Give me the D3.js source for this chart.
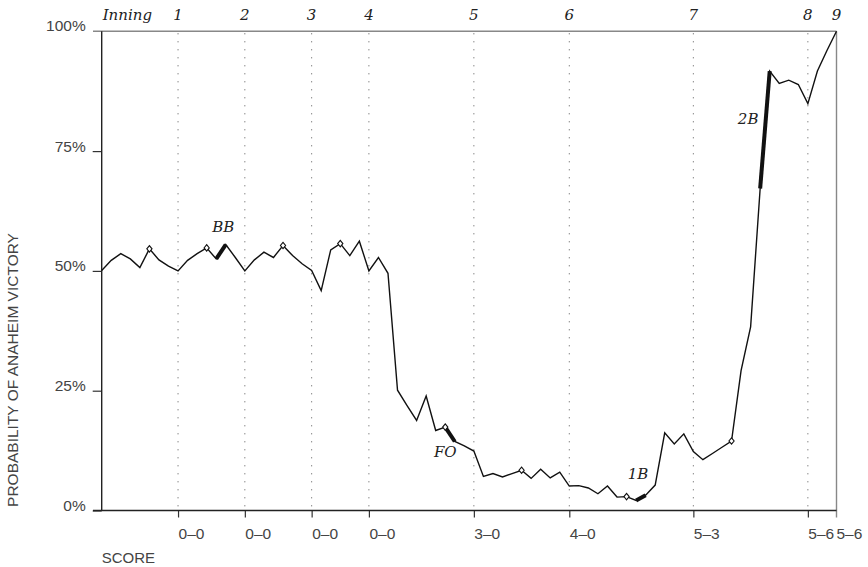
<!DOCTYPE html>
<html>
<head>
<meta charset="utf-8">
<script src="https://cdn.jsdelivr.net/npm/d3@7"></script>
<style>
  html, body { margin: 0; padding: 0; background: #fff; }
  svg { display: block; }
</style>
</head>
<body>
<svg id="chart" width="868" height="567"></svg>
<script>
// ---------- DATA ----------
const innings = ["1", "2", "3", "4", "5", "6", "7", "8", "9"];
const inningEvent = [8, 15, 22, 28, 39, 49, 62, 74, 77];
const scores = ["0–0", "0–0", "0–0", "0–0", "3–0", "4–0", "5–3", "5–6", "5–6"];
const yTicks = [0, 25, 50, 75, 100];

// win probability (%) after each plate-appearance event, index 0..77
const probability = [
  50.1, 52.2, 53.6, 52.5, 50.7, 54.6, 52.3, 51.0, 50.0, 52.2,
  53.6, 54.8, 52.5, 55.5, 52.8, 50.0, 52.3, 53.9, 52.8, 55.3,
  53.2, 51.5, 50.1, 45.9, 54.4, 55.7, 53.2, 56.2, 50.0, 52.8,
  49.5, 25.1, 21.9, 18.8, 23.9, 16.7, 17.4, 14.4, 13.5, 12.4,
  7.1, 7.7, 7.0, 7.7, 8.4, 6.7, 8.6, 6.8, 8.0, 5.1,
  5.2, 4.7, 3.5, 5.1, 2.8, 2.9, 2.1, 3.2, 5.3, 16.2,
  13.9, 16.0, 12.3, 10.6, 11.9, 13.2, 14.5, 29.2, 38.3, 67.2,
  91.7, 89.1, 89.8, 88.9, 84.9, 91.7, 96.0, 100
];

// events marked with a diamond
const markerEvents = [5, 11, 19, 25, 36, 44, 55, 66];

// key plays (thick segments) and their labels
const playLabels = ["BB", "FO", "1B", "2B"];
const playStart = [12, 36, 56, 69];
const playEnd = [13, 37, 57, 70];

// ---------- LAYOUT ----------
const pLeft = 101.7, pRight = 836.5, pTop = 31.3, pBottom = 510.5;
const svg = d3.select("#chart");

const x = d3.scaleLinear().domain([0, 77]).range([pLeft, pRight]);
const y = d3.scaleLinear().domain([0, 100]).range([pBottom, pTop]);

const sans = "'Liberation Sans', Arial, sans-serif";
const serif = "'DejaVu Serif', serif";

// dotted inning lines
svg.append("g").selectAll("line")
  .data(inningEvent.slice(0, 8))
  .join("line")
  .attr("x1", d => x(d)).attr("x2", d => x(d))
  .attr("y1", pTop + 2).attr("y2", pBottom)
  .attr("stroke", "#555")
  .attr("stroke-width", 1)
  .attr("stroke-dasharray", "1,7");

// top frame line (grey) and right frame line
svg.append("line")
  .attr("x1", 93).attr("x2", pRight)
  .attr("y1", pTop).attr("y2", pTop)
  .attr("stroke", "#888").attr("stroke-width", 1.6);
svg.append("line")
  .attr("x1", pRight).attr("x2", pRight)
  .attr("y1", pTop).attr("y2", pBottom + 7)
  .attr("stroke", "#888").attr("stroke-width", 1.4);

// left axis via d3.axisLeft
const yAxis = d3.axisLeft(y)
  .tickValues(yTicks.slice(0, 4))
  .tickSize(9)
  .tickFormat(d => d + "%");
const gy = svg.append("g").attr("transform", `translate(${pLeft},0)`).call(yAxis);
gy.select(".domain").remove();
gy.selectAll(".tick line").attr("stroke", "#333").attr("stroke-width", 1.2);
gy.selectAll(".tick text")
  .attr("x", -16).attr("dy", 0)
  .attr("font-family", sans).attr("font-size", 15.5).attr("fill", "#444");
// 100% label (top line acts as its tick)
svg.append("text")
  .attr("x", pLeft - 16).attr("y", y(100))
  .attr("text-anchor", "end")
  .attr("font-family", sans).attr("font-size", 15.5).attr("fill", "#444")
  .text("100%");

svg.append("line")
  .attr("x1", pLeft).attr("x2", pLeft)
  .attr("y1", pTop).attr("y2", pBottom)
  .attr("stroke", "#222").attr("stroke-width", 1.4);

// bottom axis
const xAxis = d3.axisBottom(x)
  .tickValues(inningEvent.slice(0, 8))
  .tickSize(7)
  .tickFormat((d, i) => scores[i]);
const gx = svg.append("g").attr("transform", `translate(0,${pBottom})`).call(xAxis);
gx.select(".domain").remove();
gx.selectAll(".tick line").attr("stroke", "#333").attr("stroke-width", 1.2);
gx.selectAll(".tick text")
  .attr("text-anchor", "start")
  .attr("y", 28).attr("dy", 0)
  .attr("font-family", sans).attr("font-size", 15.5).attr("fill", "#444");
svg.append("text")
  .attr("x", pRight).attr("y", pBottom + 28)
  .attr("font-family", sans).attr("font-size", 15.5).attr("fill", "#444")
  .text(scores[8]);
svg.append("line")
  .attr("x1", 93).attr("x2", pRight)
  .attr("y1", pBottom).attr("y2", pBottom)
  .attr("stroke", "#222").attr("stroke-width", 1.4);

// SCORE label
svg.append("text")
  .attr("x", pLeft).attr("y", 563)
  .attr("font-family", sans).attr("font-size", 15).attr("fill", "#444")
  .text("SCORE");

// Y axis title
svg.append("text")
  .attr("transform", `translate(18,${(228 + 512) / 2}) rotate(-90)`)
  .attr("text-anchor", "middle")
  .attr("font-family", sans).attr("font-size", 15.5).attr("fill", "#444")
  .text("PROBABILITY OF ANAHEIM VICTORY");

// Inning header
svg.append("text")
  .attr("x", pLeft + 1).attr("y", 20)
  .attr("font-family", serif).attr("font-style", "italic")
  .attr("font-size", 15).attr("fill", "#222")
  .text("Inning");
svg.append("g").selectAll("text")
  .data(innings)
  .join("text")
  .attr("x", (d, i) => x(inningEvent[i]))
  .attr("y", 20)
  .attr("text-anchor", "middle")
  .attr("font-family", serif).attr("font-style", "italic")
  .attr("font-size", 15).attr("fill", "#222")
  .text(d => d);

// main probability line
const line = d3.line().x((d, i) => x(i)).y(d => y(d));
svg.append("path")
  .datum(probability)
  .attr("d", line)
  .attr("fill", "none")
  .attr("stroke", "#111")
  .attr("stroke-width", 1.4)
  .attr("stroke-linejoin", "miter");

// thick key-play segments
svg.append("g").selectAll("line")
  .data(playLabels)
  .join("line")
  .attr("x1", (d, i) => x(playStart[i]))
  .attr("y1", (d, i) => y(probability[playStart[i]]))
  .attr("x2", (d, i) => x(playEnd[i]))
  .attr("y2", (d, i) => y(probability[playEnd[i]]))
  .attr("stroke", "#111")
  .attr("stroke-width", 4)
  .attr("stroke-linecap", "butt");

// diamond markers
svg.append("g").selectAll("path")
  .data(markerEvents)
  .join("path")
  .attr("transform", d => `translate(${x(d)},${y(probability[d])})`)
  .attr("d", "M0,-3.2L2.6,0L0,3.2L-2.6,0Z")
  .attr("fill", "#fff")
  .attr("stroke", "#111")
  .attr("stroke-width", 1.1);

// play labels (offsets relative to the play's segment)
const labelDx = [7, 0, 2, -12];
const labelDy = [-13, 30, -16, 53];
svg.append("g").selectAll("text")
  .data(playLabels)
  .join("text")
  .attr("x", (d, i) => x(playStart[i]) + labelDx[i])
  .attr("y", (d, i) => y(Math.max(probability[playStart[i]], probability[playEnd[i]])) + labelDy[i])
  .attr("text-anchor", "middle")
  .attr("font-family", serif).attr("font-style", "italic")
  .attr("font-size", 15).attr("fill", "#222")
  .text(d => d);
</script>
</body>
</html>
